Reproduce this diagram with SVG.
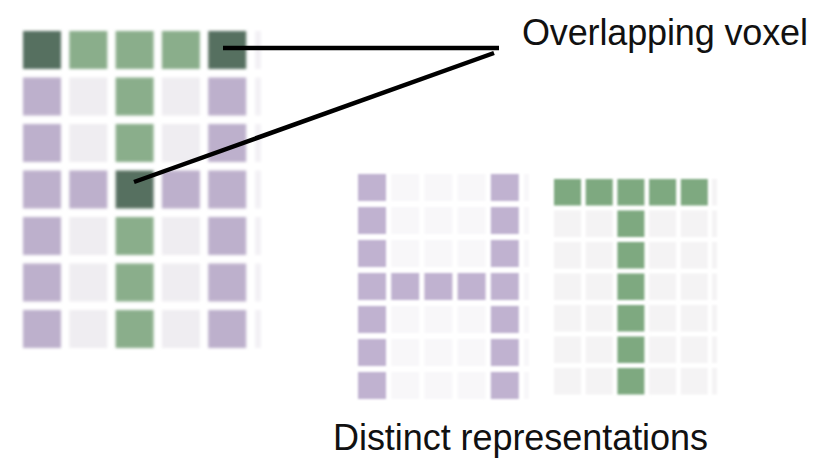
<svg xmlns="http://www.w3.org/2000/svg" width="825" height="474" viewBox="0 0 825 474">
<defs>
<filter id="blurL" x="-5%" y="-5%" width="110%" height="110%"><feGaussianBlur stdDeviation="1.4"/></filter>
<filter id="blurR" x="-5%" y="-5%" width="110%" height="110%"><feGaussianBlur stdDeviation="0.9"/></filter>
</defs>
<style>
.dk{fill:#577060}
.gL{fill:#8aae8b}
.pL{fill:#bdb0cc}
.eL{fill:#efedf1}
.fL{fill:#f3f1f5}
.pH{fill:#c0b2d0}
.eH{fill:#f8f7f9}
.gT{fill:#7ea980}
.eT{fill:#f4f3f4}
.conn{stroke:#000;stroke-width:4.5;fill:none}
.lbl{font-family:"Liberation Sans",Arial,sans-serif;font-size:36px;fill:#111}
</style>
<rect width="825" height="474" fill="#fff"/>
<g id="combined-grid" filter="url(#blurL)">
<rect class="dk" x="23" y="31" width="38" height="38"/>
<rect class="gL" x="69.3" y="31" width="38" height="38"/>
<rect class="gL" x="115.6" y="31" width="38" height="38"/>
<rect class="gL" x="161.9" y="31" width="38" height="38"/>
<rect class="dk" x="208.2" y="31" width="38" height="38"/>
<rect class="pL" x="23" y="77.5" width="38" height="38"/>
<rect class="eL" x="69.3" y="77.5" width="38" height="38"/>
<rect class="gL" x="115.6" y="77.5" width="38" height="38"/>
<rect class="eL" x="161.9" y="77.5" width="38" height="38"/>
<rect class="pL" x="208.2" y="77.5" width="38" height="38"/>
<rect class="pL" x="23" y="124" width="38" height="38"/>
<rect class="eL" x="69.3" y="124" width="38" height="38"/>
<rect class="gL" x="115.6" y="124" width="38" height="38"/>
<rect class="eL" x="161.9" y="124" width="38" height="38"/>
<rect class="pL" x="208.2" y="124" width="38" height="38"/>
<rect class="pL" x="23" y="170.5" width="38" height="38"/>
<rect class="pL" x="69.3" y="170.5" width="38" height="38"/>
<rect class="dk" x="115.6" y="170.5" width="38" height="38"/>
<rect class="pL" x="161.9" y="170.5" width="38" height="38"/>
<rect class="pL" x="208.2" y="170.5" width="38" height="38"/>
<rect class="pL" x="23" y="217" width="38" height="38"/>
<rect class="eL" x="69.3" y="217" width="38" height="38"/>
<rect class="gL" x="115.6" y="217" width="38" height="38"/>
<rect class="eL" x="161.9" y="217" width="38" height="38"/>
<rect class="pL" x="208.2" y="217" width="38" height="38"/>
<rect class="pL" x="23" y="263.5" width="38" height="38"/>
<rect class="eL" x="69.3" y="263.5" width="38" height="38"/>
<rect class="gL" x="115.6" y="263.5" width="38" height="38"/>
<rect class="eL" x="161.9" y="263.5" width="38" height="38"/>
<rect class="pL" x="208.2" y="263.5" width="38" height="38"/>
<rect class="pL" x="23" y="310" width="38" height="38"/>
<rect class="eL" x="69.3" y="310" width="38" height="38"/>
<rect class="gL" x="115.6" y="310" width="38" height="38"/>
<rect class="eL" x="161.9" y="310" width="38" height="38"/>
<rect class="pL" x="208.2" y="310" width="38" height="38"/>
<rect class="fL" x="255" y="31" width="6" height="38"/>
<rect class="fL" x="255" y="77.5" width="6" height="38"/>
<rect class="fL" x="255" y="124" width="6" height="38"/>
<rect class="fL" x="255" y="170.5" width="6" height="38"/>
<rect class="fL" x="255" y="217" width="6" height="38"/>
<rect class="fL" x="255" y="263.5" width="6" height="38"/>
<rect class="fL" x="255" y="310" width="6" height="38"/>
</g>
<g id="h-grid" filter="url(#blurR)">
<rect class="pH" x="358" y="174" width="28" height="27"/>
<rect class="eH" x="391.2" y="174" width="28" height="27"/>
<rect class="eH" x="424.4" y="174" width="28" height="27"/>
<rect class="eH" x="457.6" y="174" width="28" height="27"/>
<rect class="pH" x="490.8" y="174" width="28" height="27"/>
<rect class="pH" x="358" y="207" width="28" height="27"/>
<rect class="eH" x="391.2" y="207" width="28" height="27"/>
<rect class="eH" x="424.4" y="207" width="28" height="27"/>
<rect class="eH" x="457.6" y="207" width="28" height="27"/>
<rect class="pH" x="490.8" y="207" width="28" height="27"/>
<rect class="pH" x="358" y="240" width="28" height="27"/>
<rect class="eH" x="391.2" y="240" width="28" height="27"/>
<rect class="eH" x="424.4" y="240" width="28" height="27"/>
<rect class="eH" x="457.6" y="240" width="28" height="27"/>
<rect class="pH" x="490.8" y="240" width="28" height="27"/>
<rect class="pH" x="358" y="273" width="28" height="27"/>
<rect class="pH" x="391.2" y="273" width="28" height="27"/>
<rect class="pH" x="424.4" y="273" width="28" height="27"/>
<rect class="pH" x="457.6" y="273" width="28" height="27"/>
<rect class="pH" x="490.8" y="273" width="28" height="27"/>
<rect class="pH" x="358" y="306" width="28" height="27"/>
<rect class="eH" x="391.2" y="306" width="28" height="27"/>
<rect class="eH" x="424.4" y="306" width="28" height="27"/>
<rect class="eH" x="457.6" y="306" width="28" height="27"/>
<rect class="pH" x="490.8" y="306" width="28" height="27"/>
<rect class="pH" x="358" y="339" width="28" height="27"/>
<rect class="eH" x="391.2" y="339" width="28" height="27"/>
<rect class="eH" x="424.4" y="339" width="28" height="27"/>
<rect class="eH" x="457.6" y="339" width="28" height="27"/>
<rect class="pH" x="490.8" y="339" width="28" height="27"/>
<rect class="pH" x="358" y="372" width="28" height="27"/>
<rect class="eH" x="391.2" y="372" width="28" height="27"/>
<rect class="eH" x="424.4" y="372" width="28" height="27"/>
<rect class="eH" x="457.6" y="372" width="28" height="27"/>
<rect class="pH" x="490.8" y="372" width="28" height="27"/>
<rect class="eH" x="524" y="174" width="5" height="27"/>
<rect class="eH" x="524" y="207" width="5" height="27"/>
<rect class="eH" x="524" y="240" width="5" height="27"/>
<rect class="eH" x="524" y="273" width="5" height="27"/>
<rect class="eH" x="524" y="306" width="5" height="27"/>
<rect class="eH" x="524" y="339" width="5" height="27"/>
<rect class="eH" x="524" y="372" width="5" height="27"/>
</g>
<g id="t-grid" filter="url(#blurR)">
<rect class="gT" x="554" y="179" width="27" height="26.5"/>
<rect class="gT" x="585.7" y="179" width="27" height="26.5"/>
<rect class="gT" x="617.4" y="179" width="27" height="26.5"/>
<rect class="gT" x="649.1" y="179" width="27" height="26.5"/>
<rect class="gT" x="680.8" y="179" width="27" height="26.5"/>
<rect class="eT" x="554" y="210.5" width="27" height="26.5"/>
<rect class="eT" x="585.7" y="210.5" width="27" height="26.5"/>
<rect class="gT" x="617.4" y="210.5" width="27" height="26.5"/>
<rect class="eT" x="649.1" y="210.5" width="27" height="26.5"/>
<rect class="eT" x="680.8" y="210.5" width="27" height="26.5"/>
<rect class="eT" x="554" y="242" width="27" height="26.5"/>
<rect class="eT" x="585.7" y="242" width="27" height="26.5"/>
<rect class="gT" x="617.4" y="242" width="27" height="26.5"/>
<rect class="eT" x="649.1" y="242" width="27" height="26.5"/>
<rect class="eT" x="680.8" y="242" width="27" height="26.5"/>
<rect class="eT" x="554" y="273.5" width="27" height="26.5"/>
<rect class="eT" x="585.7" y="273.5" width="27" height="26.5"/>
<rect class="gT" x="617.4" y="273.5" width="27" height="26.5"/>
<rect class="eT" x="649.1" y="273.5" width="27" height="26.5"/>
<rect class="eT" x="680.8" y="273.5" width="27" height="26.5"/>
<rect class="eT" x="554" y="305" width="27" height="26.5"/>
<rect class="eT" x="585.7" y="305" width="27" height="26.5"/>
<rect class="gT" x="617.4" y="305" width="27" height="26.5"/>
<rect class="eT" x="649.1" y="305" width="27" height="26.5"/>
<rect class="eT" x="680.8" y="305" width="27" height="26.5"/>
<rect class="eT" x="554" y="336.5" width="27" height="26.5"/>
<rect class="eT" x="585.7" y="336.5" width="27" height="26.5"/>
<rect class="gT" x="617.4" y="336.5" width="27" height="26.5"/>
<rect class="eT" x="649.1" y="336.5" width="27" height="26.5"/>
<rect class="eT" x="680.8" y="336.5" width="27" height="26.5"/>
<rect class="eT" x="554" y="368" width="27" height="26.5"/>
<rect class="eT" x="585.7" y="368" width="27" height="26.5"/>
<rect class="gT" x="617.4" y="368" width="27" height="26.5"/>
<rect class="eT" x="649.1" y="368" width="27" height="26.5"/>
<rect class="eT" x="680.8" y="368" width="27" height="26.5"/>
<rect class="eT" x="712" y="179" width="5" height="26.5"/>
<rect class="eT" x="712" y="210.5" width="5" height="26.5"/>
<rect class="eT" x="712" y="242" width="5" height="26.5"/>
<rect class="eT" x="712" y="273.5" width="5" height="26.5"/>
<rect class="eT" x="712" y="305" width="5" height="26.5"/>
<rect class="eT" x="712" y="336.5" width="5" height="26.5"/>
<rect class="eT" x="712" y="368" width="5" height="26.5"/>
</g>
<g id="connectors">
<line class="conn" x1="223" y1="48" x2="499" y2="48"/>
<line class="conn" x1="134" y1="182" x2="494" y2="53"/>
</g>
<g id="labels">
<text class="lbl" x="522" y="45" textLength="286" lengthAdjust="spacing">Overlapping voxel</text>
<text class="lbl" x="333" y="450" textLength="375" lengthAdjust="spacing">Distinct representations</text>
</g>
</svg>
